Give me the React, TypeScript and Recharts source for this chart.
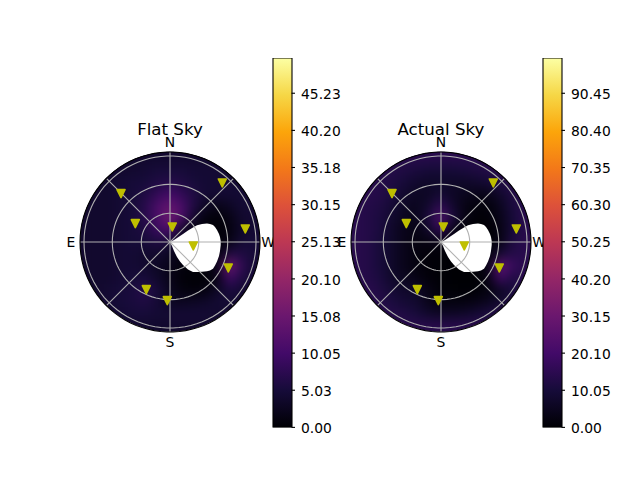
import { ComposedChart, ScatterChart, Scatter, Area, Bar, XAxis, YAxis, ReferenceLine } from 'recharts';

const FONT = '"DejaVu Sans", sans-serif';
const GRID = '#b0b0b0';
const MARKER = '#bfbf00';

// sky panels are in pixels from the centre, y grows towards south
const LIMIT = 130;
const PANEL_SIZE = LIMIT * 2;
const CENTRE_Y = 241.7;

const infernoStops = ['#000004', '#160b39', '#420a68', '#6a176e', '#932667', '#bc3754', '#dd513a', '#f37819', '#fca50a', '#f6d746', '#fcffa4'];

const cellCentres = [-84, -72, -60, -48, -36, -24, -12, 0, 12, 24, 36, 48, 60, 72, 84];

const flatSkyRows = [
  [4, 4, 4, 4, 4, 4, 4, 4, 4, 4, 4, 4, 4, 4, 4],
  [4, 4, 4, 4, 4, 4.5, 5, 5, 5, 4.5, 4.5, 4.5, 4, 4, 4],
  [4, 4, 4, 4.5, 5, 5, 6, 6.5, 6, 5, 4.5, 4.5, 4.5, 4, 4],
  [4, 4, 4, 4.5, 5, 6, 8, 10, 8, 6, 4.5, 4.5, 4.5, 4.5, 4],
  [4, 4, 4, 4.5, 5, 7, 11, 14, 11, 6, 3, 2, 3, 4.5, 4.5],
  [4, 4, 4, 4.5, 5, 7, 11, 16, 11, 4, 1, 0.5, 1.5, 4, 4.5],
  [4, 4, 4, 4.5, 5, 6, 9, 11, 4, 1, 0.5, 0.3, 1, 3.5, 4.5],
  [4, 4, 4, 4.5, 5, 5, 6, 5, 2, 1, 0.5, 0.5, 1.5, 4.5, 5],
  [4, 4, 4, 4.5, 4.5, 4, 4, 3, 1, 0.5, 0.5, 0.5, 6, 6, 5],
  [4, 4, 4, 4.5, 4.5, 4, 3, 2, 1, 0.5, 0.5, 3, 16, 8, 4.5],
  [4, 4, 4, 4.5, 5, 5, 3.5, 2, 0.5, 0.3, 0.3, 1.5, 10, 6, 4.5],
  [4, 4, 4.5, 5, 5.5, 7, 5, 2.5, 1, 0.6, 1, 3, 5.5, 4.5, 4],
  [4, 4, 4.5, 5, 5.5, 6, 4.5, 3, 2.5, 3, 3.5, 4.5, 4.5, 4, 4],
  [4, 4, 4, 4.5, 5, 5, 4.5, 4.5, 4.5, 4.5, 4.5, 4, 4, 4, 4],
  [4, 4, 4, 4, 4, 4, 4, 4, 4, 4, 4, 4, 4, 4, 4],
];

const actualSkyRows = [
  [14, 14, 14, 14, 14, 14, 14, 14, 14, 14, 14, 14, 14, 14, 14],
  [14, 14, 14, 13, 12, 11, 10, 10, 10, 11, 12, 13, 14, 14, 14],
  [14, 14, 13, 12, 10, 8, 7, 7, 7, 7, 8, 10, 12, 14, 14],
  [14, 14, 13, 11, 8, 6, 6, 9, 6, 5, 4, 4, 8, 12, 14],
  [14, 13, 12, 9, 6, 5, 8, 15, 8, 3, 1.5, 1.5, 5, 11, 14],
  [14, 13, 11, 8, 5, 4, 11, 24, 11, 3, 0.5, 1, 4, 10, 14],
  [14, 13, 11, 7, 4, 3, 7, 16, 4, 0.5, 0, 0, 3, 10, 14],
  [14, 13, 10, 7, 4, 2.5, 3, 3, 1, 0, 0, 0, 3, 12, 14],
  [14, 13, 10, 7, 4, 2, 1, 1, 0, 0, 0, 1, 9, 13, 14],
  [14, 13, 10, 7, 4, 2, 1, 0.5, 0, 0, 0, 5, 28, 18, 14],
  [14, 13, 11, 7, 5, 3, 1, 0.5, 0, 0, 0, 3, 20, 12, 14],
  [14, 14, 12, 9, 7, 7, 3, 0.5, 0.5, 0, 0.5, 2, 6, 10, 14],
  [14, 14, 13, 11, 9, 8, 4, 2, 2, 2, 3, 5, 8, 12, 14],
  [14, 14, 14, 13, 12, 10, 7, 6, 6, 7, 9, 11, 13, 14, 14],
  [14, 14, 14, 14, 14, 14, 14, 14, 14, 14, 14, 14, 14, 14, 14],
];

// the white part of the sky that is never observed
const maskOutline = [
  { x: 0, low: 0, high: 0 },
  { x: 2, low: -1, high: 4 },
  { x: 4, low: -2, high: 9 },
  { x: 7, low: -4, high: 15 },
  { x: 10, low: -6, high: 19.5 },
  { x: 13, low: -8, high: 23 },
  { x: 18, low: -11.5, high: 27.5 },
  { x: 23, low: -14.5, high: 30 },
  { x: 27, low: -16.7, high: 30 },
  { x: 32, low: -18, high: 29.7 },
  { x: 37, low: -18.5, high: 29.3 },
  { x: 40, low: -18, high: 28.5 },
  { x: 43, low: -17, high: 26.7 },
  { x: 45, low: -15, high: 23.5 },
  { x: 47, low: -12, high: 19.5 },
  { x: 49, low: -8, high: 14 },
  { x: 50, low: -5, high: 9 },
  { x: 50.7, low: -1, high: 3 },
];

const markers = [
  { x: -49, y: -48.4 },
  { x: -34.7, y: -18.4 },
  { x: 2.3, y: -15 },
  { x: 52.3, y: -59 },
  { x: 75.3, y: -13 },
  { x: 23.3, y: 4 },
  { x: 58.3, y: 26 },
  { x: -23.7, y: 47.6 },
  { x: -2.7, y: 58.6 },
];

const ringRadii = [28.7, 57.7, 86];
const RIM = 90;
const DIAGONAL = RIM * Math.SQRT1_2;

const compassLabels = [
  { text: 'N', x: 0, y: -100 },
  { text: 'S', x: 0, y: 99.5 },
  { text: 'E', x: -99, y: -0.5 },
  { text: 'W', x: 98, y: -0.5 },
];

const flatTicks = [0, 5.03, 10.05, 15.08, 20.1, 25.13, 30.15, 35.18, 40.2, 45.23];
const actualTicks = [0, 10.05, 20.1, 30.15, 40.2, 50.25, 60.3, 70.35, 80.4, 90.45];

function inferno(t: number) {
  const pos = Math.min(Math.max(t, 0), 1) * (infernoStops.length - 1);
  const i = Math.min(Math.floor(pos), infernoStops.length - 2);
  const f = pos - i;
  const channel = (hex: string, at: number) => parseInt(hex.slice(at, at + 2), 16);
  const mix = (at: number) => Math.round(channel(infernoStops[i], at) * (1 - f) + channel(infernoStops[i + 1], at) * f);
  return `rgb(${mix(1)},${mix(3)},${mix(5)})`;
}

function circlePoints(r: number) {
  const pts = [];
  for (let a = 0; a <= 360; a += 4) {
    pts.push({ x: r * Math.cos((a * Math.PI) / 180), y: r * Math.sin((a * Math.PI) / 180) });
  }
  return pts;
}

const HeatCell = (props: any) => (
  <rect x={props.cx - 6.5} y={props.cy - 6.5} width={13} height={13} fill={props.payload.color} />
);

const TriangleDown = (props: any) => (
  <path
    d={`M${props.cx - 4},${props.cy - 4}L${props.cx + 4},${props.cy - 4}L${props.cx},${props.cy + 4}Z`}
    fill={MARKER}
    stroke={MARKER}
    strokeWidth={1.6}
    strokeLinejoin="round"
  />
);

const LabelShape = (size: number) => (props: any) => (
  <text x={props.cx} y={props.cy} textAnchor="middle" dominantBaseline="central" fontFamily={FONT} fontSize={size} fill="#000">
    {props.payload.text}
  </text>
);

const NoDot = () => null;

function axes() {
  return [
    <XAxis key="x" hide type="number" dataKey="x" domain={[-LIMIT, LIMIT]} allowDataOverflow />,
    <YAxis key="y" hide type="number" dataKey="y" domain={[-LIMIT, LIMIT]} reversed allowDataOverflow />,
  ];
}

function SkyPanel({ title, centreX, rows, vmax, rimColor }: { title: string; centreX: number; rows: number[][]; vmax: number; rimColor: string }) {
  const cells = rows.flatMap((row, r) =>
    row.map((v, c) => ({ x: cellCentres[c], y: cellCentres[r], color: inferno(v / vmax) })),
  );
  const place = { position: 'absolute' as const, left: centreX - LIMIT, top: CENTRE_Y - LIMIT, width: PANEL_SIZE, height: PANEL_SIZE };

  return (
    <>
      <div style={{ ...place, background: rimColor, clipPath: `circle(${RIM}px at ${LIMIT}px ${LIMIT}px)` }}>
        <div style={{ filter: 'blur(6px)' }}>
          <ScatterChart width={PANEL_SIZE} height={PANEL_SIZE} margin={{ top: 0, right: 0, bottom: 0, left: 0 }}>
            {axes()}
            <Scatter data={cells} shape={HeatCell} isAnimationActive={false} />
          </ScatterChart>
        </div>
      </div>
      <div style={place}>
        <ComposedChart width={PANEL_SIZE} height={PANEL_SIZE} margin={{ top: 0, right: 0, bottom: 0, left: 0 }}>
          {axes()}
          <Area
            data={maskOutline}
            dataKey={(d: any) => [d.low, d.high]}
            type="linear"
            fill="#fff"
            fillOpacity={1}
            stroke="none"
            dot={false}
            activeDot={false}
            isAnimationActive={false}
          />
          {ringRadii.map((r) => (
            <Scatter key={r} data={circlePoints(r)} line={{ stroke: GRID, strokeWidth: 1.1 }} shape={NoDot} isAnimationActive={false} />
          ))}
          <ReferenceLine segment={[{ x: -RIM, y: 0 }, { x: RIM, y: 0 }]} stroke={GRID} strokeWidth={1.1} />
          <ReferenceLine segment={[{ x: 0, y: -RIM }, { x: 0, y: RIM }]} stroke={GRID} strokeWidth={1.1} />
          <ReferenceLine segment={[{ x: -DIAGONAL, y: -DIAGONAL }, { x: DIAGONAL, y: DIAGONAL }]} stroke={GRID} strokeWidth={1.1} />
          <ReferenceLine segment={[{ x: -DIAGONAL, y: DIAGONAL }, { x: DIAGONAL, y: -DIAGONAL }]} stroke={GRID} strokeWidth={1.1} />
          <Scatter data={circlePoints(RIM)} line={{ stroke: '#000', strokeWidth: 1.1 }} shape={NoDot} isAnimationActive={false} />
          <Scatter data={markers} shape={TriangleDown} isAnimationActive={false} />
          <Scatter data={compassLabels} shape={LabelShape(13.9)} isAnimationActive={false} />
          <Scatter data={[{ text: title, x: 0, y: -113 }]} shape={LabelShape(16.67)} isAnimationActive={false} />
        </ComposedChart>
      </div>
    </>
  );
}

function ColorBar({ left, vmax, ticks, width }: { left: number; vmax: number; ticks: number[]; width: number }) {
  const id = `inferno-${vmax}`;
  return (
    <div style={{ position: 'absolute', left: left - 1, top: 53.3 }}>
      <ComposedChart
        width={width + 60}
        height={389.4}
        data={[{ name: 'bar', value: vmax }]}
        margin={{ top: 5, bottom: 15, left: 1, right: 0 }}
        barCategoryGap={0}
        style={{ fontFamily: FONT }}
      >
        <defs>
          <linearGradient id={id} x1="0" y1="1" x2="0" y2="0">
            {infernoStops.map((c, i) => (
              <stop key={c} offset={`${i * 10}%`} stopColor={c} />
            ))}
          </linearGradient>
        </defs>
        <XAxis hide dataKey="name" />
        <YAxis
          orientation="right"
          width={59}
          domain={[0, vmax]}
          ticks={ticks}
          interval={0}
          allowDataOverflow
          axisLine={false}
          tickSize={3.5}
          tickMargin={6}
          tickLine={{ stroke: '#000', strokeWidth: 1.1 }}
          tick={{ fill: '#000', fontSize: 13.9, fontFamily: FONT, dy: 0.7 }}
          tickFormatter={(v: number) => v.toFixed(2)}
        />
        <Bar dataKey="value" fill={`url(#${id})`} stroke="#000" strokeWidth={1.1} isAnimationActive={false} />
      </ComposedChart>
    </div>
  );
}

export default function App() {
  return (
    <div style={{ position: 'absolute', left: 0, top: 0, width: 640, height: 480, overflow: 'hidden', background: '#fff' }}>
      <SkyPanel title="Flat Sky" centreX={170} rows={flatSkyRows} vmax={50} rimColor={inferno(4 / 50)} />
      <SkyPanel title="Actual Sky" centreX={441} rows={actualSkyRows} vmax={100} rimColor={inferno(14 / 100)} />
      <ColorBar left={272.5} vmax={50} ticks={flatTicks} width={18.5} />
      <ColorBar left={542.5} vmax={100} ticks={actualTicks} width={18.5} />
    </div>
  );
}
